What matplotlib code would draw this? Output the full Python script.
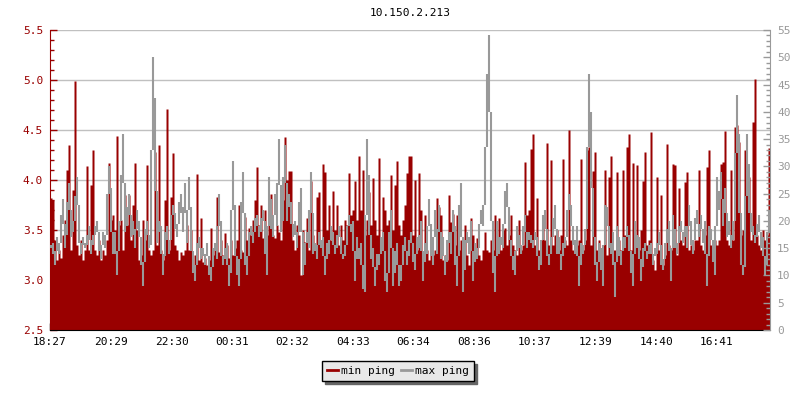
import matplotlib
matplotlib.use("Agg")
import matplotlib.pyplot as plt
from matplotlib.lines import Line2D
from matplotlib.ticker import MultipleLocator, FormatStrFormatter
import numpy as np

plt.rcParams['font.family'] = ['DejaVu Sans Mono']
plt.rcParams['font.size'] = 8

title = '10.150.2.213'
start_time = '18:27'
tick_labels = ['18:27', '20:29', '22:30', '00:31', '02:32', '04:33',
               '06:34', '08:36', '10:37', '12:39', '14:40', '16:41']

# min ping (left axis, ms), one value per 4 minutes over 24h
min_ping = [
    3.82, 3.80, 3.40, 3.20, 3.30, 3.22, 3.45, 3.60, 4.10, 4.35, 3.30, 3.90, 4.99, 3.35, 3.25, 3.40, 3.20, 3.30, 4.14, 3.30,
    3.95, 4.30, 3.30, 3.25, 3.40, 3.20, 3.30, 3.25, 3.40, 4.17, 3.60, 3.65, 3.50, 4.44, 3.55, 3.60, 3.30, 3.85, 3.55, 3.85,
    3.40, 3.75, 4.17, 3.50, 3.20, 3.25, 3.60, 3.40, 4.15, 3.30, 3.25, 3.30, 4.28, 3.35, 4.35, 3.30, 3.20, 3.80, 4.71, 3.30,
    3.83, 4.27, 3.35, 3.30, 3.20, 3.28, 3.25, 3.30, 3.55, 3.30, 3.50, 3.15, 3.25, 4.06, 3.20, 3.62, 3.18, 3.22, 3.15, 3.20,
    3.52, 3.25, 3.30, 3.83, 3.28, 3.40, 3.25, 3.47, 3.35, 3.22, 3.40, 3.25, 3.32, 3.40, 3.75, 3.30, 3.28, 3.63, 3.40, 3.52,
    3.45, 3.60, 3.80, 4.13, 3.55, 3.75, 3.42, 3.70, 3.45, 3.62, 3.86, 3.45, 3.42, 3.55, 3.48, 3.40, 3.80, 4.43, 4.00, 4.09,
    4.09, 3.40, 3.30, 3.55, 3.45, 3.05, 3.50, 3.38, 3.62, 3.30, 3.99, 3.45, 3.35, 3.83, 3.88, 3.40, 4.16, 4.08, 3.50, 3.75,
    3.40, 3.89, 3.50, 3.75, 3.35, 3.55, 3.40, 3.60, 3.55, 4.07, 3.65, 3.70, 3.99, 3.60, 4.24, 3.70, 4.10, 3.45, 3.60, 3.88,
    3.55, 4.02, 3.60, 3.45, 4.22, 3.40, 3.83, 3.70, 3.55, 3.60, 4.05, 3.50, 3.95, 4.19, 3.55, 3.45, 3.60, 3.75, 4.07, 4.24,
    4.24, 3.45, 4.00, 3.30, 4.07, 3.70, 3.22, 3.65, 3.30, 3.20, 3.28, 3.25, 3.30, 3.82, 3.73, 3.65, 3.20, 3.25, 3.20, 3.85,
    3.58, 3.66, 3.35, 3.65, 3.30, 3.40, 3.30, 3.55, 3.25, 3.15, 3.62, 3.45, 3.30, 3.42, 3.25, 3.20, 3.30, 3.48, 3.30, 3.28,
    3.40, 3.30, 3.65, 3.30, 3.62, 3.30, 3.50, 3.52, 3.35, 3.45, 3.65, 3.35, 3.30, 3.25, 3.60, 3.30, 3.35, 4.18, 3.65, 3.70,
    4.31, 4.46, 3.35, 3.82, 3.30, 3.40, 3.55, 3.40, 4.37, 3.35, 4.20, 3.35, 3.45, 3.50, 3.30, 3.45, 4.21, 3.40, 3.35, 4.50,
    3.40, 3.30, 3.40, 3.35, 3.40, 4.21, 3.30, 3.40, 4.30, 4.33, 3.35, 4.09, 4.28, 3.30, 3.40, 3.30, 3.35, 4.10, 3.25, 4.03,
    4.24, 3.30, 3.30, 4.08, 3.40, 3.30, 4.10, 3.45, 4.33, 4.46, 3.30, 4.17, 3.35, 4.15, 3.30, 3.50, 3.99, 4.28, 3.35, 3.40,
    4.48, 3.20, 3.10, 4.03, 3.30, 3.85, 3.15, 3.25, 4.36, 3.35, 3.30, 4.16, 4.15, 3.25, 3.92, 3.40, 3.35, 3.98, 4.08, 3.30,
    3.35, 3.30, 3.40, 3.40, 4.10, 3.35, 3.30, 3.45, 4.13, 4.30, 3.35, 3.40, 3.40, 3.35, 3.40, 4.16, 4.18, 4.49, 3.40, 3.35,
    4.10, 3.40, 4.53, 4.55, 4.38, 3.45, 3.50, 4.30, 4.16, 4.03, 3.40, 4.58, 5.01, 3.45, 3.35, 3.30, 3.50, 3.40, 3.45, 4.32,
]

# max ping (right axis, ms)
max_ping = [
    15, 16, 12, 17, 14, 18, 24, 15, 20, 27, 17, 19, 21, 28, 18, 14, 17, 15, 16, 19,
    14, 17, 18, 20, 16, 13, 18, 15, 20, 30, 22, 14, 18, 10, 19, 21, 36, 18, 20, 25,
    17, 20, 15, 22, 18, 16, 8, 17, 20, 15, 16, 50, 35, 16, 20, 18, 10, 17, 19, 14,
    19, 23, 20, 17, 22, 25, 18, 27, 16, 28, 17, 12, 9, 15, 17, 13, 15, 12, 16, 11,
    9, 14, 16, 13, 25, 15, 12, 14, 16, 8, 13, 31, 15, 12, 8, 18, 29, 14, 10, 17,
    19, 16, 20, 21, 17, 19, 22, 18, 10, 28, 20, 17, 25, 19, 35, 18, 22, 34, 20, 25,
    22, 17, 20, 15, 21, 26, 10, 14, 18, 15, 29, 14, 16, 13, 18, 15, 17, 10, 16, 14,
    19, 17, 14, 16, 19, 15, 13, 14, 17, 21, 18, 20, 9, 17, 13, 16, 8, 7, 35, 22,
    13, 15, 8, 14, 12, 16, 18, 11, 7, 14, 22, 8, 13, 16, 8, 10, 14, 17, 12, 15,
    18, 14, 11, 17, 15, 20, 9, 16, 14, 24, 15, 12, 22, 14, 23, 13, 17, 10, 15, 18,
    14, 22, 16, 8, 19, 27, 7, 15, 18, 14, 20, 9, 16, 13, 17, 22, 19, 27, 40, 54,
    26, 14, 7, 20, 14, 17, 15, 24, 27, 18, 15, 12, 10, 19, 16, 14, 17, 21, 15, 18,
    17, 15, 18, 16, 11, 13, 20, 22, 15, 12, 16, 18, 23, 14, 17, 11, 16, 15, 19, 25,
    21, 17, 14, 19, 8, 16, 14, 17, 20, 47, 33, 19, 15, 9, 16, 14, 8, 23, 22, 16,
    14, 18, 6, 19, 15, 12, 17, 15, 19, 16, 13, 8, 20, 15, 17, 9, 14, 16, 13, 15,
    16, 12, 15, 14, 18, 13, 11, 15, 17, 20, 9, 21, 16, 14, 18, 20, 16, 19, 15, 23,
    17, 14, 19, 22, 17, 21, 16, 20, 8, 19, 18, 15, 10, 28, 22, 29, 19, 26, 17, 20,
    15, 18, 22, 43, 29, 14, 10, 13, 36, 25, 18, 19, 16, 18, 21, 15, 17, 10, 14, 22,
]

red = '#990000'
grey = '#999999'
day = 1440


def minutes_from_start(label):
    h, m = label.split(':')
    sh, sm = start_time.split(':')
    return ((int(h) * 60 + int(m)) - (int(sh) * 60 + int(sm))) % day


fig = plt.figure(figsize=(8, 4), dpi=100)
ax = fig.add_axes([50 / 800, 70 / 400, 720 / 800, 300 / 400])
ax2 = ax.twinx()

# min ping as filled columns
x_min = np.arange(len(min_ping) + 1) * day / len(min_ping)
y_min = np.append(min_ping, min_ping[-1])
ax.fill_between(x_min, y_min, 2.5, step='post', color=red, lw=0, zorder=2)

# max ping: line drawn column by column (vertical strokes between neighbours)
mx = np.array(max_ping, dtype=float)
x_max = (np.arange(len(mx)) + 0.5) * day / len(mx)
prev_mid = (np.r_[mx[0], mx[:-1]] + mx) / 2
next_mid = (np.r_[mx[1:], mx[-1]] + mx) / 2
lo = np.minimum(mx, np.minimum(prev_mid, next_mid))
hi = np.maximum(mx, np.maximum(prev_mid, next_mid))
ax2.vlines(x_max, lo, hi, color=grey, lw=1.5, zorder=3)

ax.set_xlim(0, day)
ax.set_ylim(2.5, 5.5)
ax2.set_ylim(0, 55)

ax.yaxis.set_major_locator(MultipleLocator(0.5))
ax.yaxis.set_minor_locator(MultipleLocator(0.1))
ax.yaxis.set_major_formatter(FormatStrFormatter('%.1f'))
ax2.yaxis.set_major_locator(MultipleLocator(5))
ax2.yaxis.set_minor_locator(MultipleLocator(1))

ax.set_xticks([minutes_from_start(t) for t in tick_labels])
ax.set_xticklabels(tick_labels)

ax.grid(axis='y', color='#c0c0c0', lw=1, zorder=1)
ax.set_axisbelow(True)

ax.tick_params(axis='x', direction='in', length=5, width=1, pad=5, colors='black')
ax.tick_params(axis='y', which='major', direction='in', length=5, width=1, pad=5,
               colors=red, labelcolor=red)
ax.tick_params(axis='y', which='minor', direction='in', length=3, width=1, colors=red)
ax2.tick_params(axis='y', which='major', direction='in', length=5, width=1, pad=5,
                colors=grey, labelcolor=grey)
ax2.tick_params(axis='y', which='minor', direction='in', length=3, width=1, colors=grey)

for a in (ax, ax2):
    a.spines['top'].set_visible(False)
ax.spines['left'].set_color(red)
ax2.spines['left'].set_visible(False)
ax2.spines['right'].set_color(grey)
ax.spines['right'].set_visible(False)
ax2.spines['bottom'].set_visible(False)
ax.spines['bottom'].set_color('black')

ax.set_zorder(1)
ax2.set_zorder(2)
ax2.patch.set_visible(False)

fig.text(410 / 800, 1 - 13 / 400, title, ha='center', va='center', fontsize=8)

handles = [Line2D([], [], color=red, lw=2), Line2D([], [], color=grey, lw=2)]
fig.legend(handles, ['min ping', 'max ping'], loc='center',
           bbox_to_anchor=(398 / 800, 1 - 371 / 400), ncol=2, fontsize=8,
           frameon=True, fancybox=False, edgecolor='black', facecolor='#e8e8e8',
           framealpha=1, shadow={'color': '#666666', 'alpha': 1},
           handlelength=1.0, handletextpad=0.3, columnspacing=0.5,
           borderpad=0.45, borderaxespad=0)

fig.savefig('out.png', dpi=100)
